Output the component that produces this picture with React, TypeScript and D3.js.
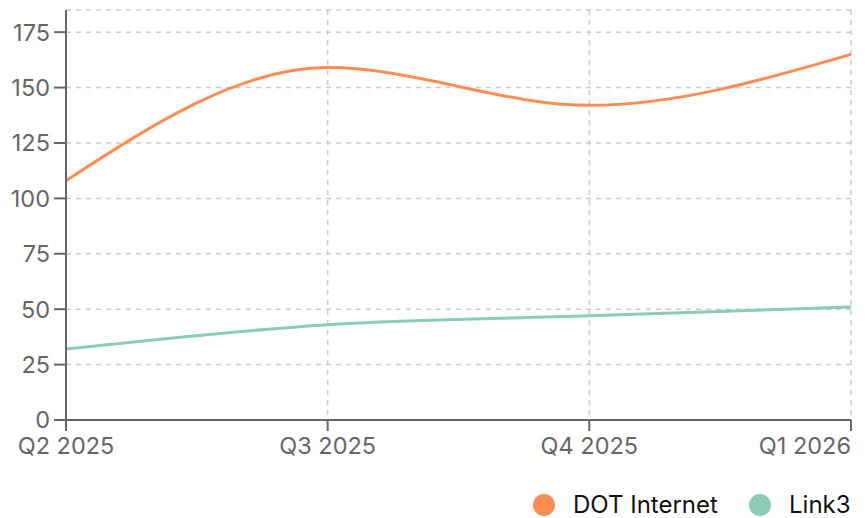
import React from "react";
import * as d3 from "d3";

const categories = ["Q2 2025", "Q3 2025", "Q4 2025", "Q1 2026"];
const dotInternet = [108, 159, 142, 165];
const link3 = [32, 43, 47, 51];
const yTicks = [0, 25, 50, 75, 100, 125, 150, 175];
const seriesNames = ["DOT Internet", "Link3"];
const seriesColors = ["#fd8d55", "#8ccbb6"];

export default function App() {
  const W = 868, H = 518;
  const left = 66, right = 851, top = 10, bottom = 420;
  const x = d3.scalePoint<string>().domain(categories).range([left, right]);
  const y = d3.scaleLinear().domain([0, 185]).range([bottom, top]);
  const line = d3
    .line<number>()
    .x((_, i) => x(categories[i]) as number)
    .y((d) => y(d))
    .curve(d3.curveMonotoneX);
  const series = [dotInternet, link3];
  const font = "Inter, 'Noto Sans', sans-serif";
  return (
    <svg width={W} height={H} style={{ position: "absolute", left: 0, top: 0 }} fontFamily={font}>
      {[...yTicks, 185].map((t) => (
        <line key={"h" + t} x1={left} x2={right} y1={y(t)} y2={y(t)} stroke="#cccccc" strokeWidth={1.5} strokeDasharray="5,5" />
      ))}
      {categories.map((c) => (
        <line key={"v" + c} x1={x(c)} x2={x(c)} y1={top} y2={bottom} stroke="#cccccc" strokeWidth={1.5} strokeDasharray="5,5" />
      ))}
      {series.map((s, i) => (
        <path key={i} d={line(s) || ""} fill="none" stroke={seriesColors[i]} strokeWidth={3} />
      ))}
      <line x1={left} x2={left} y1={top} y2={bottom} stroke="#666" strokeWidth={2} />
      {yTicks.map((t) => (
        <g key={"yt" + t}>
          <line x1={left - 12} x2={left} y1={y(t)} y2={y(t)} stroke="#666" strokeWidth={2} />
          <text x={left - 16} y={y(t)} dy="0.36em" textAnchor="end" fontSize={23.5} fill="#666">
            {t}
          </text>
        </g>
      ))}
      <line x1={left} x2={right} y1={bottom} y2={bottom} stroke="#666" strokeWidth={2} />
      {categories.map((c, i) => (
        <g key={"xt" + c}>
          <line x1={x(c)} x2={x(c)} y1={bottom} y2={bottom + 11} stroke="#666" strokeWidth={2} />
          <text
            x={x(c)}
            y={454}
            textAnchor={i === categories.length - 1 ? "end" : "middle"}
            fontSize={23.5}
            fill="#666"
          >
            {c}
          </text>
        </g>
      ))}
      <g>
        <circle cx={544} cy={505} r={11} fill={seriesColors[0]} />
        <text x={573} y={505} dy="0.35em" fontSize={24} fill="#111">{seriesNames[0]}</text>
        <circle cx={760} cy={505} r={11} fill={seriesColors[1]} />
        <text x={789} y={505} dy="0.35em" fontSize={24} fill="#111">{seriesNames[1]}</text>
      </g>
    </svg>
  );
}
